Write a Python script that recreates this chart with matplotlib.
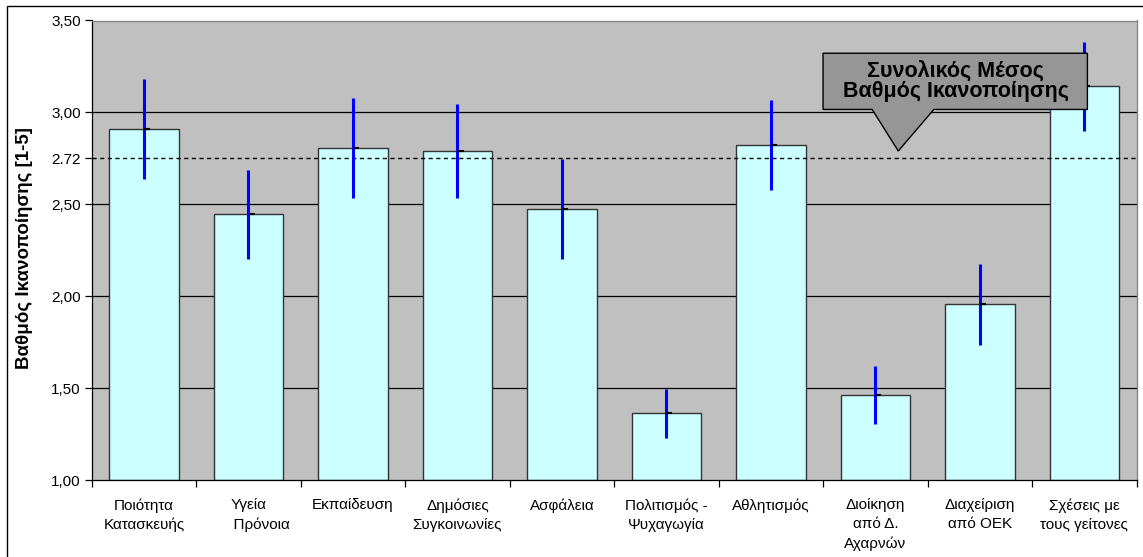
import matplotlib.pyplot as plt
from matplotlib.patches import Polygon, Rectangle

plt.rcParams['font.family'] = ['Liberation Sans', 'DejaVu Sans']

# data
categories = ["Ποιότητα\nΚατασκευής", "Υγεία\n      Πρόνοια", "Εκπαίδευση",
              "Δημόσιες\nΣυγκοινωνίες", "Ασφάλεια", "Πολιτισμός -\nΨυχαγωγία",
              "Αθλητισμός", "Διοίκηση\nαπό Δ.\nΑχαρνών", "Διαχείριση\nαπό ΟΕΚ",
              "Σχέσεις με\nτους γείτονες"]
scores = [2.91, 2.445, 2.805, 2.79, 2.475, 1.363, 2.823, 1.463, 1.955, 3.141]
errors = [0.27, 0.24, 0.272, 0.258, 0.273, 0.133, 0.245, 0.158, 0.218, 0.24]
overall_mean = 2.75
overall_mean_label = "2.72"
yticks = [1.0, 1.5, 2.0, 2.5, 3.0, 3.5]
ytick_labels = ["1,00", "1,50", "2,00", "2,50", "3,00", "3,50"]

W, H = 1143, 557
fig = plt.figure(figsize=(W / 100, H / 100), dpi=100)
ax = fig.add_axes([91.7 / W, 1 - 480 / H, (1136.5 - 91.7) / W, (480 - 20.5) / H])
ax.set_facecolor('#C0C0C0')

x = list(range(len(categories)))
ax.bar(x, [s - 1 for s in scores], bottom=1, width=0.665, color='#CCFFFF',
       edgecolor='#333333', linewidth=1, zorder=2)
ax.axhline(overall_mean, color='black', linestyle=(0, (3, 2.5)), linewidth=1, zorder=3)
ax.errorbar(x, scores, yerr=errors, fmt='none', ecolor='#0000FF', elinewidth=2.2,
            capsize=0, zorder=4)
ax.plot([i + 0.03 for i in x], scores, linestyle='none', marker='_', color='black',
        markersize=4, markeredgewidth=1.5, zorder=5)

ax.set_xlim(-0.5, len(categories) - 0.5)
ax.set_ylim(1.0, 3.5)
for g in yticks[1:-1]:
    ax.axhline(g, color='black', linewidth=0.9, zorder=1)

ax.set_yticks(yticks + [overall_mean])
ax.set_yticklabels(ytick_labels + [overall_mean_label], fontsize=11)
ax.set_xticks(x)
ax.set_xticklabels(categories, fontsize=11, linespacing=1.45, va='top')
ax.tick_params(axis='x', which='major', length=0, pad=13)
ax.set_xticks([i - 0.5 for i in range(len(categories) + 1)], minor=True)
ax.tick_params(axis='x', which='minor', direction='out', length=5, width=0.9)
ax.tick_params(axis='y', direction='out', length=5, width=0.9, pad=3)

for side in ['left', 'bottom']:
    ax.spines[side].set_color('black')
    ax.spines[side].set_linewidth(0.9)
for side in ['top', 'right']:
    ax.spines[side].set_color('#808080')
    ax.spines[side].set_linewidth(0.9)

fig.text(25 / W, 1 - 248 / H, "Βαθμός Ικανοποίησης [1-5]", rotation=90,
         ha='center', va='center', fontsize=13.5, fontweight='bold')

# callout box pointing at the overall mean line
callout = Polygon([(6.5, 3.322), (9.03, 3.322), (9.03, 3.016), (7.56, 3.016),
                   (7.22, overall_mean + 0.04), (6.97, 3.016), (6.5, 3.016)],
                  closed=True, facecolor='#969696', edgecolor='black',
                  linewidth=1, zorder=6)
ax.add_patch(callout)
ax.text(7.77, 3.17, "Συνολικός Μέσος\nΒαθμός Ικανοποίησης", ha='center', va='center',
        fontsize=15.5, fontweight='bold', linespacing=0.98, zorder=7)

fig.patches.append(Rectangle((7 / W, -0.1), 2, 1 - 6 / H + 0.1, transform=fig.transFigure,
                             fill=False, edgecolor='black', linewidth=1))

fig.savefig('out.png', dpi=100)
